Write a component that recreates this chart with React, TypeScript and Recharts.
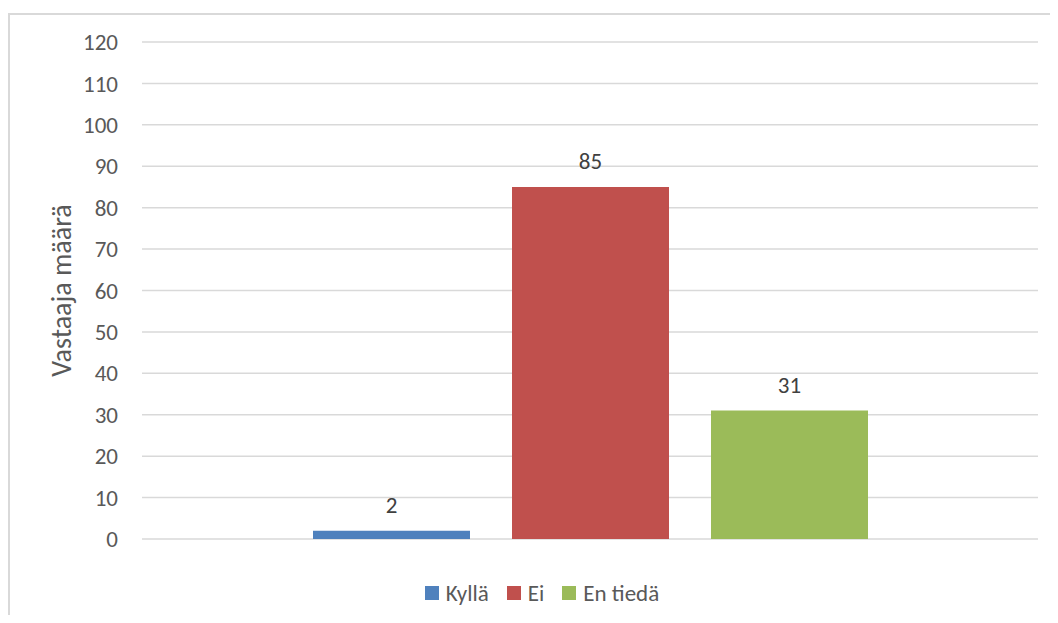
import React from "react";
import { BarChart, Bar, XAxis, YAxis, CartesianGrid, Legend, LabelList } from "recharts";

// Kyselyn vastaukset
const categories = ["Vastaukset"];
const kylla = [2];
const ei = [85];
const enTieda = [31];
const yTicks = [0, 10, 20, 30, 40, 50, 60, 70, 80, 90, 100, 110, 120];
const seriesOrder = ["Kyllä", "Ei", "En tiedä"];

const data = categories.map((name, i) => ({
  name,
  Kyllä: kylla[i],
  Ei: ei[i],
  "En tiedä": enTieda[i],
}));

const FONT = "Carlito, Calibri, Lato, 'Open Sans', sans-serif";

const YLabel = (props: any) => {
  const { viewBox } = props;
  const cx = viewBox.x + 51;
  const cy = viewBox.y + viewBox.height / 2;
  return (
    <text
      x={cx}
      y={cy}
      transform={`rotate(-90, ${cx}, ${cy})`}
      textAnchor="middle"
      dominantBaseline="central"
      fill="#595959"
      fontSize={28}
      fontFamily={FONT}
    >
      Vastaaja määrä
    </text>
  );
};

// selite: neliö + teksti, sarjojen järjestyksessä
const LegendContent = (props: any) => {
  const items = [...(props.payload || [])].sort(
    (a: any, b: any) => seriesOrder.indexOf(String(a.value)) - seriesOrder.indexOf(String(b.value))
  );
  return (
    <div style={{ display: "flex", justifyContent: "center", alignItems: "center", paddingLeft: 36 }}>
      {items.map((item: any, i: number) => (
        <div key={item.value} style={{ display: "flex", alignItems: "center", marginLeft: i === 0 ? 0 : 18 }}>
          <span style={{ width: 14, height: 14, backgroundColor: item.color, display: "inline-block", marginRight: 7 }} />
          <span style={{ color: "#595959", fontSize: 23, fontFamily: FONT, lineHeight: "28px" }}>{item.value}</span>
        </div>
      ))}
    </div>
  );
};

const App: React.FC = () => {
  return (
    <div style={{ paddingTop: 5 }}>
      <div
        style={{
          width: 1040,
          height: 600,
          borderTop: "2px solid #d9d9d9",
          borderLeft: "2px solid #d9d9d9",
          backgroundColor: "#fff",
          fontFamily: FONT,
        }}
      >
        <BarChart
          width={1040}
          height={600}
          data={data}
          margin={{ top: 27, right: 12, left: 0, bottom: 48 }}
          barCategoryGap={171}
          barGap={42}
        >
          <CartesianGrid vertical={false} stroke="#d9d9d9" strokeWidth={1.5} />
          <XAxis dataKey="name" hide />
          <YAxis
            width={132}
            domain={[0, 120]}
            ticks={yTicks}
            interval={0}
            axisLine={false}
            tickLine={false}
            tickSize={0}
            tickMargin={24}
            tick={{ fill: "#595959", fontSize: 23, fontFamily: FONT }}
            label={<YLabel />}
          />
          <Legend verticalAlign="bottom" content={<LegendContent />} wrapperStyle={{ bottom: 8 }} />
          <Bar dataKey="Kyllä" fill="#4f81bd" isAnimationActive={false}>
            <LabelList dataKey="Kyllä" position="top" offset={18} fill="#404040" fontSize={23} fontFamily={FONT} />
          </Bar>
          <Bar dataKey="Ei" fill="#c0504d" isAnimationActive={false}>
            <LabelList dataKey="Ei" position="top" offset={18} fill="#404040" fontSize={23} fontFamily={FONT} />
          </Bar>
          <Bar dataKey="En tiedä" fill="#9bbb59" isAnimationActive={false}>
            <LabelList dataKey="En tiedä" position="top" offset={18} fill="#404040" fontSize={23} fontFamily={FONT} />
          </Bar>
        </BarChart>
      </div>
    </div>
  );
};

export default App;
